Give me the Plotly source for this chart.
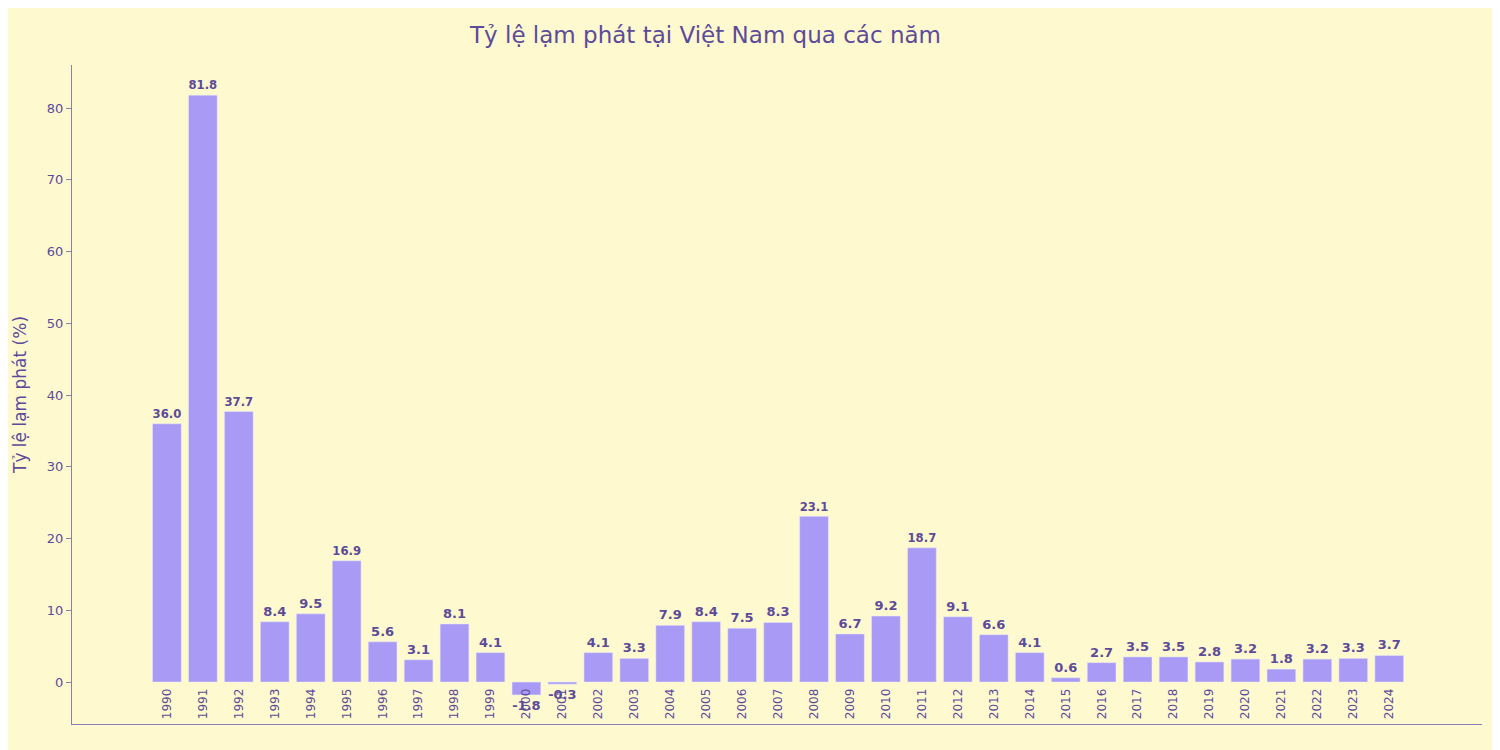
import plotly.graph_objects as go

years = [str(y) for y in range(1990, 2025)]
values = [36.0, 81.8, 37.7, 8.4, 9.5, 16.9, 5.6, 3.1, 8.1, 4.1, -1.8, -0.3, 4.1, 3.3, 7.9, 8.4, 7.5, 8.3,
          23.1, 6.7, 9.2, 18.7, 9.1, 6.6, 4.1, 0.6, 2.7, 3.5, 3.5, 2.8, 3.2, 1.8, 3.2, 3.3, 3.7]
labels = [f"{v:.1f}" for v in values]

txt = "#5C4B99"
fig = go.Figure(go.Bar(
    x=list(range(len(years))), y=values, text=labels, textposition="outside", cliponaxis=False,
    marker_color="#A99BF5", textfont=dict(color=txt, size=13, family="DejaVu Sans", weight="bold"),
))
fig.update_layout(
    width=1500, height=750, paper_bgcolor="#FFF9D0", plot_bgcolor="#FFF9D0",
    margin=dict(l=62, r=26, t=57, b=34),
    font=dict(family="DejaVu Sans", color=txt),
    title=dict(text="Tỷ lệ lạm phát tại Việt Nam qua các năm", x=0.465, xanchor="center", y=0.975,
               font=dict(size=23, color=txt)),
    bargap=0.2, showlegend=False,
)
fig.update_yaxes(range=[-5.85, 86], showgrid=False, zeroline=False, showline=True, linecolor="#8A7FB5",
                 ticks="outside", tickcolor="#8A7FB5", tickvals=list(range(0, 81, 10)),
                 tickfont=dict(size=13, color=txt),
                 title=dict(text="Tỷ lệ lạm phát (%)", font=dict(size=17, color=txt)))
fig.update_xaxes(showgrid=False, showline=True, linecolor="#8A7FB5", tickangle=-90,
                 tickvals=list(range(len(years))), ticktext=years,
                 ticklabelposition="inside", tickfont=dict(size=12, color=txt), range=[-2.64, 36.58])
fig.write_html("out.html")
